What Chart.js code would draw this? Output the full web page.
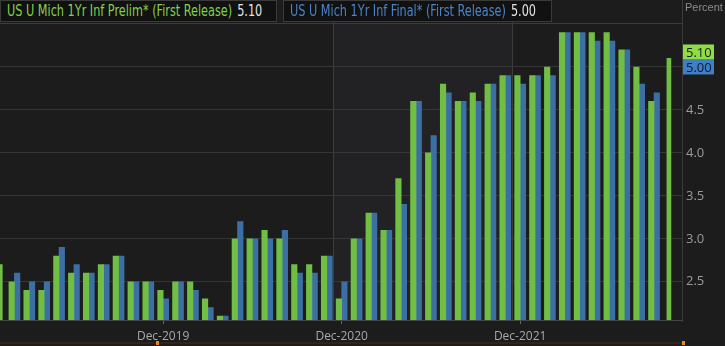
<!DOCTYPE html>
<html>
<head>
<meta charset="utf-8">
<script src="https://cdn.jsdelivr.net/npm/chart.js@4.4.0/dist/chart.umd.min.js"></script>
<style>
    html, body { margin: 0; padding: 0; background: #1c1c1c; }
    #wrap { position: relative; width: 725px; height: 346px; overflow: hidden; }
    #chart { position: absolute; left: 0; top: 0; }
    .legend {
        position: absolute; top: 0; height: 22px; box-sizing: border-box;
        background: #111; border: 1px solid #3a3a3a; overflow: hidden;
    }
    .legend .inner {
        position: absolute; left: 6px; top: 0; white-space: nowrap;
        font: 15px "DejaVu Sans Condensed", "DejaVu Sans", sans-serif; line-height: 20px;
        transform: scaleX(0.835); transform-origin: left center;
    }
    .legend .val { color: #e2e2e2; margin-left: 6px; }
    #unit { position: absolute; left: 685px; top: 1px; color: #8c8c8c; font: 11px "Liberation Sans", sans-serif; }
</style>
</head>
<body>
<div id="wrap">
    <canvas id="chart" width="725" height="346"></canvas>
    <div class="legend" style="left:0; width:277px;"><span class="inner" id="legPrelim" style="color:#82d04e;"></span></div>
    <div class="legend" style="left:283px; width:269px;"><span class="inner" id="legFinal" style="color:#4a84c6;"></span></div>
    <div id="unit">Percent</div>
</div>
<script>
// Datos: encuesta Michigan, expectativa de inflación a 1 año (mensual, ene-2019 a oct-2022)
const months = [
    'Jan-2019', 'Feb-2019', 'Mar-2019', 'Apr-2019', 'May-2019', 'Jun-2019',
    'Jul-2019', 'Aug-2019', 'Sep-2019', 'Oct-2019', 'Nov-2019', 'Dec-2019',
    'Jan-2020', 'Feb-2020', 'Mar-2020', 'Apr-2020', 'May-2020', 'Jun-2020',
    'Jul-2020', 'Aug-2020', 'Sep-2020', 'Oct-2020', 'Nov-2020', 'Dec-2020',
    'Jan-2021', 'Feb-2021', 'Mar-2021', 'Apr-2021', 'May-2021', 'Jun-2021',
    'Jul-2021', 'Aug-2021', 'Sep-2021', 'Oct-2021', 'Nov-2021', 'Dec-2021',
    'Jan-2022', 'Feb-2022', 'Mar-2022', 'Apr-2022', 'May-2022', 'Jun-2022',
    'Jul-2022', 'Aug-2022', 'Sep-2022', 'Oct-2022'
];
const prelim = [
    2.7, 2.5, 2.4, 2.4, 2.8, 2.6, 2.6, 2.7, 2.8, 2.5, 2.5, 2.4,
    2.5, 2.5, 2.3, 2.1, 3.0, 3.0, 3.1, 3.0, 2.7, 2.7, 2.8, 2.3,
    3.0, 3.3, 3.1, 3.7, 4.6, 4.0, 4.8, 4.6, 4.7, 4.8, 4.9, 4.9,
    4.9, 5.0, 5.4, 5.4, 5.4, 5.4, 5.2, 5.0, 4.6, 5.1
];
const final = [
    null, 2.6, 2.5, 2.5, 2.9, 2.7, 2.6, 2.7, 2.8, 2.5, 2.5, 2.3,
    2.5, 2.4, 2.2, 2.1, 3.2, 3.0, 3.0, 3.1, 2.6, 2.6, 2.8, 2.5,
    3.0, 3.3, 3.1, 3.4, 4.6, 4.2, 4.7, 4.6, 4.6, 4.8, 4.9, 4.8,
    4.9, 4.9, 5.4, 5.4, 5.3, 5.3, 5.2, 4.8, 4.7, 5.0
];
const tickMonths = ['Dec-2019', 'Dec-2020', 'Dec-2021'];
const yTicks = [2.5, 3.0, 3.5, 4.0, 4.5, 5.0];
const seriesNames = ['US U Mich 1Yr Inf Prelim* (First Release)', 'US U Mich 1Yr Inf Final* (First Release)'];

const GREEN = '#70be44';
const BLUE = '#3c6fa3';
const last = months.length - 1;

// Leyenda superior
function renderLegend() {
    document.getElementById('legPrelim').innerHTML =
        `${seriesNames[0]}<span class="val">${prelim[last].toFixed(2)}</span>`;
    document.getElementById('legFinal').innerHTML =
        `${seriesNames[1]}<span class="val">${final[last].toFixed(2)}</span>`;
}

function toPoints(values) {
    return values.slice(0, last).map((v, i) => ({ x: i, y: v }));
}

// Fondo, franja sombreada y marco
const backdrop = {
    id: 'backdrop',
    beforeDraw(chart) {
        const { ctx, chartArea: a, scales: { x } } = chart;
        ctx.save();
        ctx.fillStyle = '#1c1c1c';
        ctx.fillRect(0, 0, chart.width, chart.height);
        const x0 = Math.round(x.getPixelForValue(22.42)) + 0.5;
        const x1 = Math.round(x.getPixelForValue(34.45)) + 0.5;
        ctx.fillStyle = '#222225';
        ctx.fillRect(x0, a.top, x1 - x0, a.bottom - a.top);
        ctx.strokeStyle = '#3c3c3c';
        ctx.lineWidth = 1;
        ctx.beginPath();
        ctx.moveTo(x0, a.top - 2); ctx.lineTo(x0, a.bottom);
        ctx.moveTo(x1, a.top - 2); ctx.lineTo(x1, a.bottom);
        ctx.moveTo(0, a.top - 0.5); ctx.lineTo(a.right, a.top - 0.5);
        ctx.moveTo(a.right + 0.5, 0); ctx.lineTo(a.right + 0.5, a.bottom + 2);
        ctx.stroke();
        // barra inferior de navegación
        ctx.fillStyle = '#2e2418';
        ctx.fillRect(0, 342, a.right, 2);
        ctx.fillStyle = '#e08a2c';
        ctx.fillRect(156, 341, 3, 4);
        ctx.fillRect(a.right, 341, 3, 4);
        ctx.restore();
    }
};

// Etiquetas de último valor en el eje derecho
const lastValues = {
    id: 'lastValues',
    afterDraw(chart) {
        const { ctx, chartArea: a, scales: { y } } = chart;
        const yb = y.getPixelForValue(final[last]);
        const left = a.right + 1, w = 31, h = 15;
        ctx.save();
        ctx.font = '13px "Open Sans", sans-serif';
        ctx.textBaseline = 'middle';
        ctx.textAlign = 'left';
        ctx.fillStyle = '#3f7fc6';
        ctx.fillRect(left, yb - h / 2, w, h);
        ctx.fillStyle = '#0e1a28';
        ctx.fillText(final[last].toFixed(2), left + 3, yb + 1);
        ctx.fillStyle = '#8fdc48';
        ctx.fillRect(left, yb - h / 2 - h, w, h);
        ctx.fillStyle = '#15220c';
        ctx.fillText(prelim[last].toFixed(2), left + 3, yb - h + 1);
        ctx.restore();
    }
};

function initializeChart() {
    const ctx = document.getElementById('chart').getContext('2d');
    new Chart(ctx, {
        type: 'bar',
        data: {
            datasets: [
                { label: seriesNames[0], data: toPoints(prelim), backgroundColor: GREEN, barThickness: 5.5, skipNull: true },
                { label: seriesNames[1], data: toPoints(final), backgroundColor: BLUE, barThickness: 5.5, skipNull: true },
                // último mes (dato parcial): barras finas superpuestas
                { label: seriesNames[0], data: [{ x: last, y: prelim[last] }], backgroundColor: GREEN, barThickness: 4, grouped: false },
                { label: seriesNames[1], data: [{ x: last, y: final[last] }], backgroundColor: BLUE, barThickness: 2, grouped: false }
            ]
        },
        options: {
            responsive: false,
            animation: false,
            devicePixelRatio: 1,
            layout: { padding: { top: 24, left: 0, right: 0, bottom: 0 } },
            plugins: { legend: { display: false }, tooltip: { enabled: false } },
            scales: {
                x: {
                    type: 'linear',
                    offset: false,
                    min: 0.03,
                    max: 45.88,
                    afterBuildTicks: s => { s.ticks = tickMonths.map(m => ({ value: months.indexOf(m) })); },
                    ticks: {
                        callback: v => months[v],
                        color: '#a8a8a8',
                        font: { family: 'Open Sans', size: 12 },
                        padding: 5,
                        maxRotation: 0,
                        autoSkip: false
                    },
                    grid: { offset: false, drawOnChartArea: false, drawTicks: true, tickLength: 4, color: '#666' },
                    border: { display: true, color: '#454545' },
                    afterFit: s => { s.height = 26; }
                },
                y: {
                    position: 'right',
                    min: 2.055,
                    max: 5.5,
                    afterBuildTicks: s => { s.ticks = yTicks.map(v => ({ value: v })); },
                    ticks: {
                        callback: v => v.toFixed(1),
                        color: '#9a9a9a',
                        font: { family: 'Open Sans', size: 13 },
                        padding: 4
                    },
                    grid: { color: '#363636', drawTicks: false },
                    border: { display: false },
                    afterFit: s => { s.width = 43; }
                }
            }
        },
        plugins: [backdrop, lastValues]
    });
}

document.addEventListener('DOMContentLoaded', () => {
    renderLegend();
    initializeChart();
});
</script>
</body>
</html>
